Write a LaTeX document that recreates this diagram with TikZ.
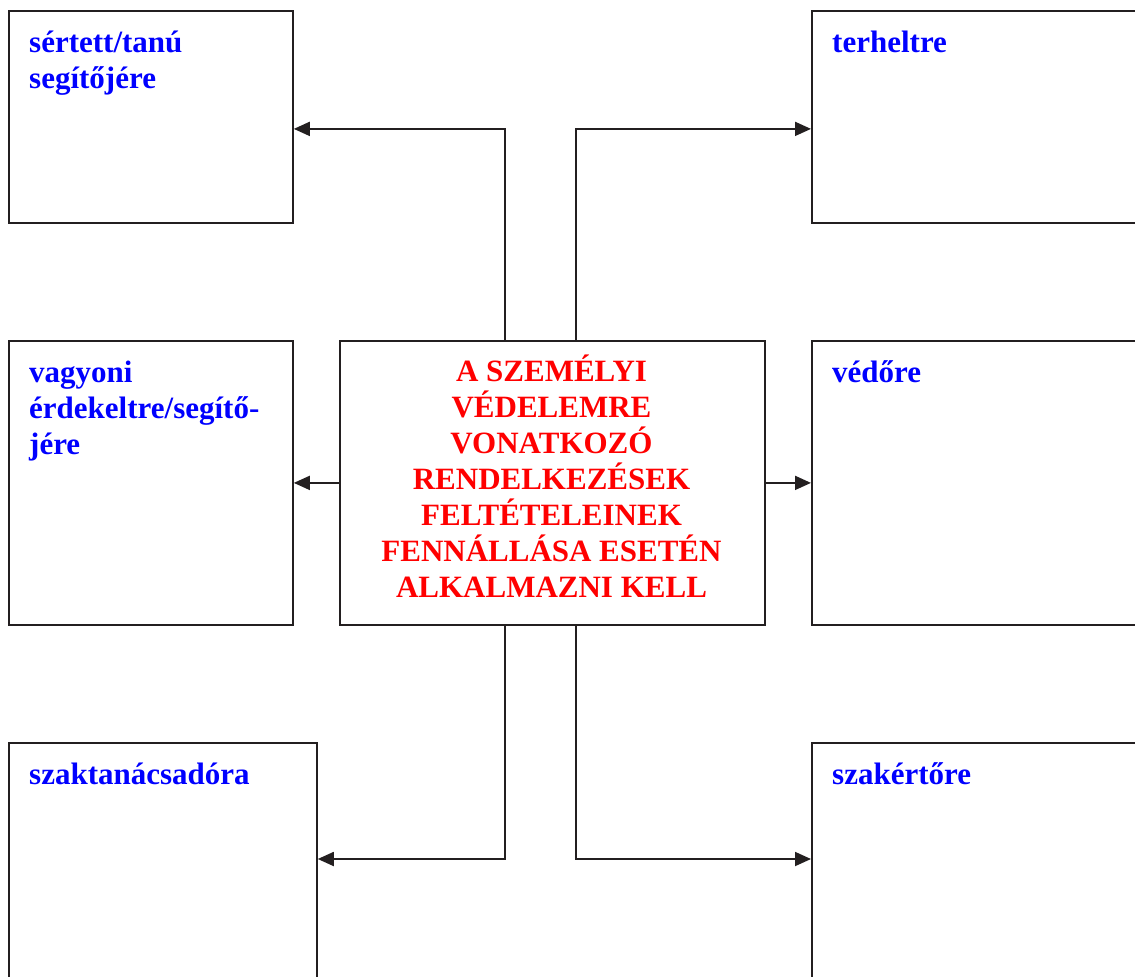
\documentclass[tikz,border=0pt]{standalone}
\usepackage{fontspec}
\setmainfont{Liberation Serif}
\usetikzlibrary{arrows.meta}
\definecolor{linegray}{HTML}{231F20}
\begin{document}
\begin{tikzpicture}[x=1pt,y=-1pt,
  box/.style={draw=linegray,line width=1.8pt,rectangle,anchor=north west,inner sep=0pt},
  lbl/.style={anchor=base west,inner sep=0pt,align=left,text=blue,
    font=\fontsize{31}{36}\selectfont\bfseries},
  arr/.style={draw=linegray,line width=1.8pt,
    -{Triangle[length=16pt,width=14pt]}}]
\useasboundingbox (0,0) rectangle (1135,977);
\begin{scope}
\clip (0,0) rectangle (1135,977);
% outer boxes
\node[box,minimum width=284pt,minimum height=212pt] (tl) at (8,10) {};
\node[box,minimum width=400pt,minimum height=212pt] (tr) at (811,10) {};
\node[box,minimum width=284pt,minimum height=284pt] (ml) at (8,340) {};
\node[box,minimum width=400pt,minimum height=284pt] (mr) at (811,340) {};
\node[box,minimum width=308pt,minimum height=300pt] (bl) at (8,742) {};
\node[box,minimum width=400pt,minimum height=300pt] (br) at (811,742) {};
% central box
\node[box,minimum width=425pt,minimum height=284pt] (c) at (339,340) {};
\node[inner sep=0pt,align=center,text=red,
  font=\fontsize{31}{36}\selectfont\bfseries] (ctext) at (551.5,476)
  {A SZEMÉLYI\\VÉDELEMRE\\VONATKOZÓ\\RENDELKEZÉSEK\\FELTÉTELEINEK\\FENNÁLLÁSA ESETÉN\\ALKALMAZNI KELL};
% box labels (anchored at the baseline of their last line)
\node[lbl] (ttl) at (29,88) {sértett/tanú\\segítőjére};
\node[lbl] (ttr) at (832,52) {terheltre};
\node[lbl] (tml) at (29,454) {vagyoni\\érdekeltre/segítő-\\jére};
\node[lbl] (tmr) at (832,382) {védőre};
\node[lbl] (tbl) at (29,784) {szaktanácsadóra};
\node[lbl] (tbr) at (832,784) {szakértőre};
% connectors
\draw[arr] ([xshift=-47.5pt]c.north) |- ([yshift=-12pt]tl.east);
\draw[arr] ([xshift=23.5pt]c.north) |- ([yshift=-12pt]tl.east -| tr.west);
\draw[arr] (c.west) -- (c.west -| ml.east);
\draw[arr] (c.east) -- (c.east -| mr.west);
\draw[arr] ([xshift=-47.5pt]c.south) |- ([yshift=-117pt]bl.north east);
\draw[arr] ([xshift=23.5pt]c.south) |- ([yshift=-117pt]br.north west);
\end{scope}
\end{tikzpicture}
\end{document}
